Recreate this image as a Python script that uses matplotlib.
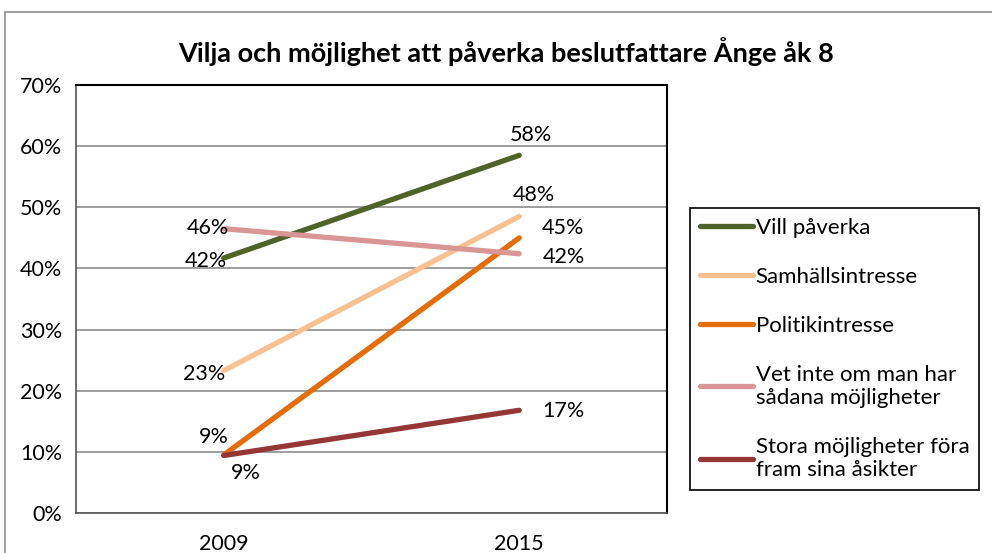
import matplotlib
matplotlib.use("Agg")
import matplotlib.pyplot as plt
from matplotlib.patches import Rectangle
from matplotlib.ticker import FuncFormatter, MultipleLocator

plt.rcParams['font.family'] = ['Lato', 'DejaVu Sans']

years = ["2009", "2015"]
series_names = ["Vill påverka", "Samhällsintresse", "Politikintresse",
                "Vet inte om man har\nsådana möjligheter",
                "Stora möjligheter föra\nfram sina åsikter"]
vill = [41.7, 58.5]
samh = [23.3, 48.5]
polit = [9.5, 45.0]
vet = [46.5, 42.4]
stora = [9.4, 16.8]
values = [vill, samh, polit, vet, stora]
labels_txt = [["42%", "58%"], ["23%", "48%"], ["9%", "45%"], ["46%", "42%"], ["9%", "17%"]]
colors = ["#4F6228", "#FAC090", "#E46C0A", "#D99694", "#953735"]

W, H = 992, 553
fig = plt.figure(figsize=(W / 100, H / 100), dpi=100)

# outer chart border
fig.patches.append(Rectangle((5 / W, -0.1), 1.2, 1.1 - 12 / H, transform=fig.transFigure,
                             fill=False, edgecolor="#8c8c8c", linewidth=1.2))

ax = fig.add_axes([76 / W, 1 - 513 / H, (667 - 76) / W, (513 - 85) / H])
x = list(range(len(years)))
lines = []
for vals, c, name in zip(values, colors, series_names):
    ln, = ax.plot(x, vals, color=c, linewidth=3.8, solid_capstyle="round", label=name, zorder=3)
    lines.append(ln)

ax.set_xlim(-0.5, 1.5)
ax.set_ylim(0, 70)
ax.yaxis.set_major_locator(MultipleLocator(10))
ax.yaxis.set_major_formatter(FuncFormatter(lambda v, p: f"{int(round(v))}%"))
ax.set_xticks(x)
ax.set_xticklabels(years)
ax.tick_params(axis="both", length=0, labelsize=15.5, colors="black")
ax.tick_params(axis="y", pad=10)
ax.tick_params(axis="x", pad=15)
ax.grid(axis="y", color="#8c8c8c", linewidth=1.2, zorder=0)
ax.set_axisbelow(True)
for s in ["top", "right"]:
    ax.spines[s].set_color("black")
    ax.spines[s].set_linewidth(1.5)
for s in ["left", "bottom"]:
    ax.spines[s].set_color("#555555")
    ax.spines[s].set_linewidth(1.2)

fs = 15.5
k = 0.72  # px -> pt
# (dx_px, dy_px, ha) ; dy positive = up
offs0 = [(3, -3, "right"),    # vill 42
         (1, -3, "right"),    # samh 23
         (5, 18, "right"),    # polit 9 above
         (5, 1, "right"),     # vet 46
         (7, -17, "left")]    # stora 9 below
offs1 = [(12, 20, "center"),  # vill 58 above
         (15, 21, "center"),  # samh 48 above
         (44, 10, "center"),  # polit 45 right
         (45, -3, "center"),  # vet 42 right
         (44, -1, "center")]  # stora 17 right
for i, vals in enumerate(values):
    for j, o in enumerate([offs0[i], offs1[i]]):
        dx, dy, ha = o
        ax.annotate(labels_txt[i][j], (x[j], vals[j]), xytext=(dx * k, dy * k),
                    textcoords="offset points", ha=ha, va="center", fontsize=fs, zorder=4)

fig.text(506 / W, 1 - 52 / H, "Vilja och möjlighet att påverka beslutfattare Ånge åk 8",
         ha="center", va="center", fontsize=19.5, fontweight="bold")

leg = fig.legend(handles=lines, loc="upper left",
                 bbox_to_anchor=(690 / W, 1 - 208 / H), fontsize=16,
                 frameon=True, fancybox=False, edgecolor="black", framealpha=1,
                 handlelength=2.4, handletextpad=0.1, labelspacing=1.3,
                 borderpad=0.45, borderaxespad=0)
leg.get_frame().set_linewidth(1.2)

fig.savefig("out.png", dpi=100)
